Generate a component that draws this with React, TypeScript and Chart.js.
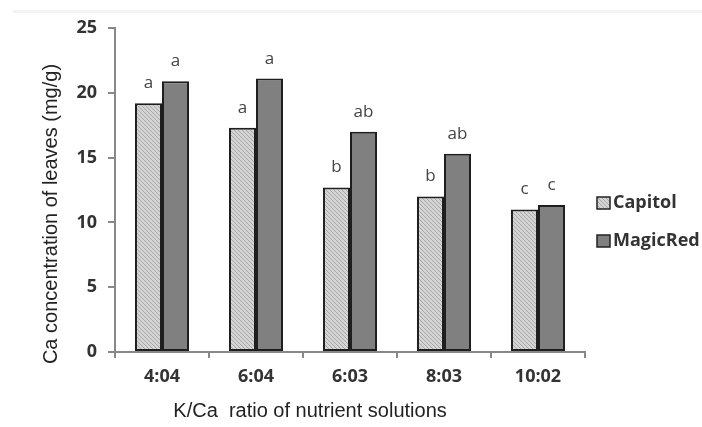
import React, { useEffect, useRef } from "react";
import { Chart, registerables } from "chart.js";

Chart.register(...registerables);

const categories = ["4:04", "6:04", "6:03", "8:03", "10:02"];
const capitolValues = [19.2, 17.3, 12.7, 12.0, 11.0];
const magicRedValues = [20.9, 21.1, 17.0, 15.3, 11.35];
const capitolLetters = ["a", "a", "b", "b", "c"];
const magicRedLetters = ["a", "a", "ab", "ab", "c"];
const seriesNames = ["Capitol", "MagicRed"];
const yAxisTitle = "Ca concentration of leaves (mg/g)";
const xAxisTitle = "K/Ca  ratio of nutrient solutions";

const TICK_FONT = "'Open Sans', 'DejaVu Sans', sans-serif";
const TITLE_FONT = "'Liberation Sans', Arial, sans-serif";

function makeHatch(): CanvasPattern | string {
  const c = document.createElement("canvas");
  c.width = 4;
  c.height = 4;
  const g = c.getContext("2d");
  if (!g) return "#c8c8c8";
  g.fillStyle = "#d4d4d4";
  g.fillRect(0, 0, 4, 4);
  g.strokeStyle = "#a8a8a8";
  g.lineWidth = 1;
  g.beginPath();
  g.moveTo(0, 0);
  g.lineTo(4, 4);
  g.moveTo(-1, 3);
  g.lineTo(1, 5);
  g.moveTo(3, -1);
  g.lineTo(5, 1);
  g.stroke();
  const p = g.createPattern(c, "repeat");
  return p || "#c8c8c8";
}

const decorPlugin = {
  id: "decor",
  beforeDraw(chart: any) {
    const ctx = chart.ctx;
    ctx.save();
    ctx.fillStyle = "#f3f3f3";
    ctx.fillRect(13, 10, chart.width - 13, 3);
    ctx.restore();
  },
  afterDatasetsDraw(chart: any) {
    const ctx = chart.ctx;
    const letters = [capitolLetters, magicRedLetters];
    ctx.save();
    ctx.fillStyle = "#444";
    ctx.font = "17px " + TICK_FONT;
    ctx.textAlign = "center";
    ctx.textBaseline = "alphabetic";
    chart.data.datasets.forEach((ds: any, i: number) => {
      const meta = chart.getDatasetMeta(i);
      meta.data.forEach((el: any, j: number) => {
        ctx.fillText(letters[i][j], el.x, el.y - 15);
      });
    });
    ctx.restore();
  },
  afterDraw(chart: any) {
    const ctx = chart.ctx;
    const area = chart.chartArea;
    ctx.save();
    // legend
    chart.data.datasets.forEach((ds: any, i: number) => {
      const bx = area.right + 12;
      const cy = 203 + i * 38;
      ctx.fillStyle = ds.backgroundColor;
      ctx.fillRect(bx, cy - 6, 13, 12);
      ctx.strokeStyle = "#222";
      ctx.lineWidth = 1.5;
      ctx.strokeRect(bx, cy - 6, 13, 12);
      ctx.fillStyle = "#333";
      ctx.font = "bold 18px " + TICK_FONT;
      ctx.textAlign = "left";
      ctx.textBaseline = "middle";
      ctx.fillText(ds.label, bx + 16, cy);
    });
    // axis titles
    ctx.fillStyle = "#222";
    ctx.font = "20px " + TITLE_FONT;
    ctx.textAlign = "center";
    ctx.textBaseline = "middle";
    ctx.fillText(xAxisTitle, area.left + (area.right - area.left) * 0.415, 411);
    ctx.translate(51, 214);
    ctx.rotate(-Math.PI / 2);
    ctx.fillText(yAxisTitle, 0, 0);
    ctx.restore();
  },
};

export default function App() {
  const ref = useRef<HTMLCanvasElement | null>(null);
  useEffect(() => {
    if (!ref.current) return;
    const hatch = makeHatch();
    const chart = new Chart(ref.current, {
      type: "bar",
      data: {
        labels: categories,
        datasets: [
          {
            label: seriesNames[0],
            data: capitolValues,
            backgroundColor: hatch as any,
            borderColor: "#1e1e1e",
            borderWidth: 2,
            borderSkipped: false,
          },
          {
            label: seriesNames[1],
            data: magicRedValues,
            backgroundColor: "#808080",
            borderColor: "#1e1e1e",
            borderWidth: 2,
            borderSkipped: false,
          },
        ],
      },
      options: {
        responsive: false,
        animation: false,
        devicePixelRatio: 1,
        layout: { padding: { top: 28, right: 117, left: 0, bottom: 0 } },
        categoryPercentage: 0.575,
        barPercentage: 1,
        plugins: {
          legend: { display: false },
          tooltip: { enabled: false },
          title: { display: false },
        },
        scales: {
          x: {
            grid: {
              offset: true,
              drawOnChartArea: false,
              drawTicks: true,
              tickLength: 6,
              color: "#888",
              lineWidth: 2,
            },
            border: { color: "#888", width: 2 },
            ticks: {
              color: "#333",
              font: { family: TICK_FONT, size: 18, weight: "bold" },
              padding: 8,
            },
            afterFit(scale: any) {
              scale.height = 75;
            },
          },
          y: {
            min: 0,
            max: 25,
            grid: {
              drawOnChartArea: false,
              drawTicks: true,
              tickLength: 7,
              color: "#888",
              lineWidth: 2,
            },
            border: { color: "#888", width: 2 },
            ticks: {
              stepSize: 5,
              color: "#333",
              font: { family: TICK_FONT, size: 18, weight: "bold" },
              padding: 11,
            },
            afterFit(scale: any) {
              scale.width = 115;
            },
          },
        },
      } as any,
      plugins: [decorPlugin],
    });
    return () => chart.destroy();
  }, []);
  return (
    <div style={{ position: "fixed", left: 0, top: 0, width: 702, height: 427, background: "#fff" }}>
      <canvas ref={ref} width={702} height={427} style={{ display: "block" }} />
    </div>
  );
}
